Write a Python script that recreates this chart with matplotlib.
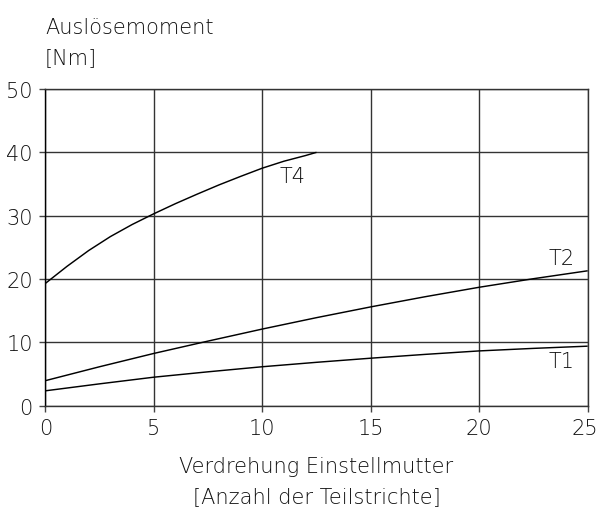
import matplotlib
matplotlib.use("Agg")
import matplotlib.pyplot as plt
from matplotlib.transforms import ScaledTranslation

# Adjustment turns of the setting nut (scale divisions)
turns = [0, 2.5, 5, 7.5, 10, 12.5, 15, 17.5, 20, 22.5, 25]
turns_t4 = [0, 1, 2, 3, 4, 5, 6, 7, 8, 9, 10, 11, 12, 12.5]

# Release torque [Nm] per coupling size
torque_t1 = [2.35, 3.45, 4.5, 5.35, 6.15, 6.85, 7.5, 8.1, 8.65, 9.05, 9.4]
torque_t2 = [3.95, 6.15, 8.25, 10.2, 12.1, 13.9, 15.6, 17.2, 18.7, 20.05, 21.3]
torque_t4 = [19.3, 22.0, 24.5, 26.7, 28.6, 30.3, 31.9, 33.4, 34.85, 36.2, 37.5, 38.6, 39.5, 40.0]

x_ticks = [0, 5, 10, 15, 20, 25]
y_ticks = [0, 10, 20, 30, 40, 50]

FONT = dict(family="DejaVu Sans", weight=200, size=15, color="#111111")

fig = plt.figure(figsize=(5.98, 5.10), dpi=100)
ax = fig.add_axes([45.3 / 598, 1 - 406.7 / 510, (587.7 - 45.3) / 598, (406.7 - 90) / 510])

ax.set_xlim(0, 25)
ax.set_ylim(0, 50)
ax.set_xticks(x_ticks)
ax.set_yticks(y_ticks)
ax.set_xticklabels([str(v) for v in x_ticks], fontdict=FONT)
ax.set_yticklabels([str(v) for v in y_ticks], fontdict=FONT)
ax.tick_params(length=4, width=1.0, color="#444444", pad=5)
# keep the last x label inside the figure edge
last = ax.get_xticklabels()[-1]
last.set_transform(last.get_transform() + ScaledTranslation(-3 / 100, 0, fig.dpi_scale_trans))

ax.grid(True, color="#333333", linewidth=1.0)
ax.set_axisbelow(True)
for side, spine in ax.spines.items():
    spine.set_color("#333333" if side != "left" else "#000000")
    spine.set_linewidth(1.0)

line_kw = dict(color="black", linewidth=1.05, solid_capstyle="butt", solid_joinstyle="round")
ax.plot(turns, torque_t1, **line_kw)
ax.plot(turns, torque_t2, **line_kw)
ax.plot(turns_t4, torque_t4, **line_kw)

ax.text(11.4, 36.3, "T4", ha="center", va="center", **FONT)
ax.text(23.8, 23.3, "T2", ha="center", va="center", **FONT)
ax.text(23.8, 7.1, "T1", ha="center", va="center", **FONT)

fig.text(45 / 598, 1 - 34 / 510, "Auslösemoment", ha="left", va="baseline", **FONT)
fig.text(45 / 598, 1 - 64 / 510, "[Nm]", ha="left", va="baseline", **FONT)
fig.text(316.5 / 598, 1 - 473 / 510, "Verdrehung Einstellmutter", ha="center", va="baseline", **FONT)
fig.text(316.5 / 598, 1 - 503 / 510, "[Anzahl der Teilstrichte]", ha="center", va="baseline", **FONT)

fig.savefig("out.png", dpi=100, facecolor="white")
